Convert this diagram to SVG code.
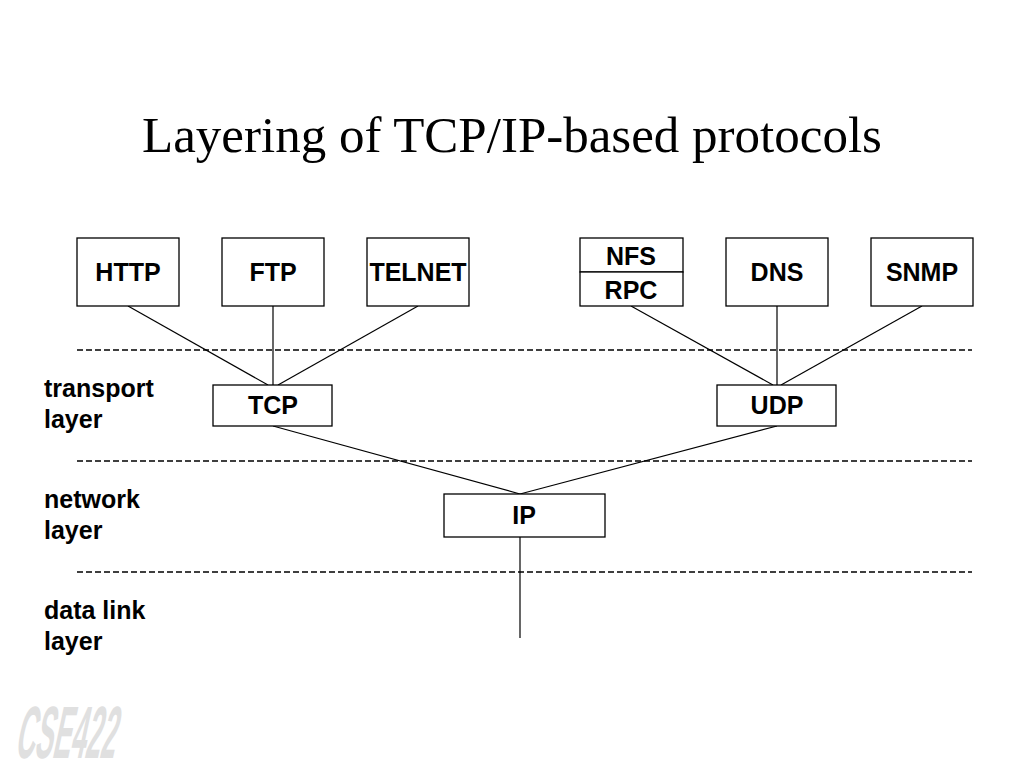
<svg xmlns="http://www.w3.org/2000/svg" width="1024" height="768" viewBox="0 0 1024 768">
<style>
.box{fill:#fff;stroke:#000;stroke-width:1.3}
.lbl{font-family:"Liberation Sans",Arial,sans-serif;font-weight:bold;font-size:25px;fill:#000;text-anchor:middle}
.side{font-family:"Liberation Sans",Arial,sans-serif;font-weight:bold;font-size:25px;fill:#000}
.ln{stroke:#000;stroke-width:1.2;fill:none}
.dash{stroke:#000;stroke-width:1.3;stroke-dasharray:6 3;fill:none}
</style>
<rect width="1024" height="768" fill="#fff"/>
<text x="512" y="152" text-anchor="middle" font-family="Liberation Serif,'Times New Roman',serif" font-size="51" fill="#000">Layering of TCP/IP-based protocols</text>
<g id="logo"><text x="14" y="758" textLength="100" lengthAdjust="spacingAndGlyphs" transform="skewX(-12) translate(161,0)" font-family="Liberation Sans,Arial,sans-serif" font-weight="bold" font-size="74" fill="#e0e0e0">CSE422</text></g>
<g id="dividers">
<line class="dash" x1="77" y1="350" x2="972" y2="350"/>
<line class="dash" x1="77" y1="461" x2="972" y2="461"/>
<line class="dash" x1="77" y1="572" x2="972" y2="572"/>
</g>
<g id="layer-labels">
<text class="side" x="44" y="397">transport</text><text class="side" x="44" y="428">layer</text>
<text class="side" x="44" y="508">network</text><text class="side" x="44" y="539">layer</text>
<text class="side" x="44" y="619">data link</text><text class="side" x="44" y="650">layer</text>
</g>
<g id="connectors">
<line class="ln" x1="128" y1="306" x2="268" y2="385"/>
<line class="ln" x1="273" y1="306" x2="273" y2="385"/>
<line class="ln" x1="418" y1="306" x2="278" y2="385"/>
<line class="ln" x1="631" y1="306" x2="773" y2="385"/>
<line class="ln" x1="777" y1="306" x2="777" y2="385"/>
<line class="ln" x1="922" y1="306" x2="781" y2="385"/>
<line class="ln" x1="273" y1="426" x2="520" y2="494"/>
<line class="ln" x1="777" y1="426" x2="520" y2="494"/>
<line class="ln" x1="520" y1="537" x2="520" y2="638"/>
</g>
<g id="HTTP"><rect class="box" x="77" y="238" width="102" height="68"/><text class="lbl" x="128" y="281">HTTP</text></g>
<g id="FTP"><rect class="box" x="222" y="238" width="102" height="68"/><text class="lbl" x="273" y="281">FTP</text></g>
<g id="TELNET"><rect class="box" x="367" y="238" width="102" height="68"/><text class="lbl" x="418" y="281">TELNET</text></g>
<g id="NFS"><rect class="box" x="580" y="238" width="103" height="34"/><text class="lbl" x="631" y="265">NFS</text></g>
<g id="RPC"><rect class="box" x="580" y="272" width="103" height="34"/><text class="lbl" x="631" y="299">RPC</text></g>
<g id="DNS"><rect class="box" x="726" y="238" width="102" height="68"/><text class="lbl" x="777" y="281">DNS</text></g>
<g id="SNMP"><rect class="box" x="871" y="238" width="102" height="68"/><text class="lbl" x="922" y="281">SNMP</text></g>
<g id="TCP"><rect class="box" x="213" y="385" width="119" height="41"/><text class="lbl" x="273" y="414">TCP</text></g>
<g id="UDP"><rect class="box" x="717" y="385" width="119" height="41"/><text class="lbl" x="777" y="414">UDP</text></g>
<g id="IP"><rect class="box" x="444" y="494" width="161" height="43"/><text class="lbl" x="524" y="524">IP</text></g>
</svg>
